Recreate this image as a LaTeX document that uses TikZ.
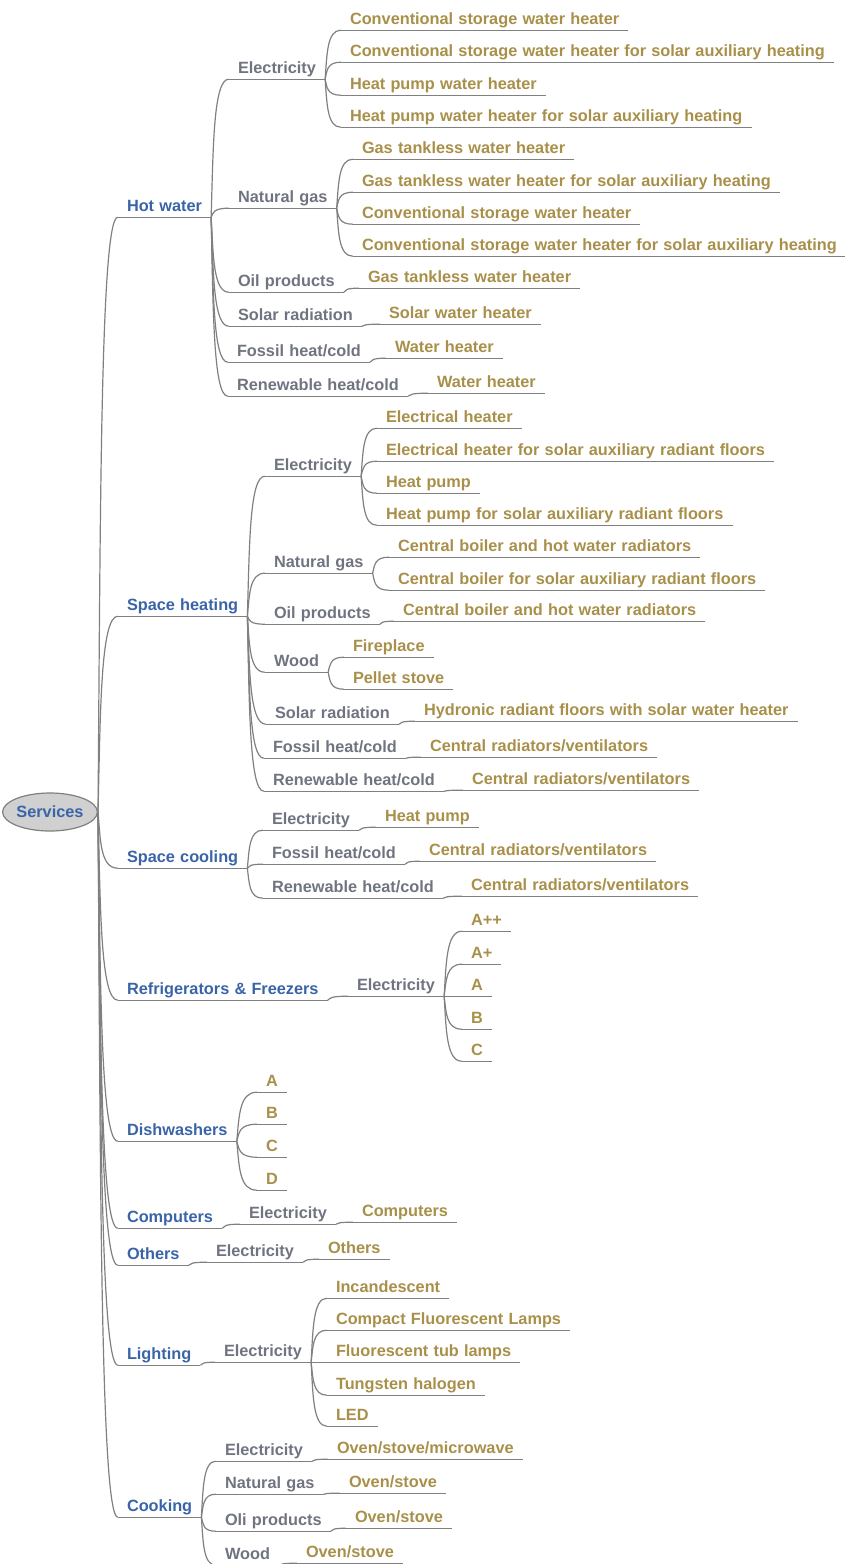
\documentclass[tikz,border=0pt]{standalone}
\usepackage{fontspec}
\setmainfont{Liberation Sans}
\usetikzlibrary{calc,shapes.geometric}
\definecolor{topblue}{RGB}{58,100,168}
\definecolor{midgray}{RGB}{112,116,128}
\definecolor{leafgold}{RGB}{168,144,74}
\definecolor{wire}{RGB}{128,128,128}
\definecolor{rootfill}{RGB}{208,208,208}
\newcommand\mapfont{\fontsize{16.3pt}{19pt}\selectfont\bfseries\spaceskip=5.2pt plus 1pt\relax}
\tikzset{
  uline/.style={draw=wire, line width=1.2pt},
  item/.style={font=\mapfont, inner xsep=9pt, inner ysep=3pt,
    text height=11.5pt, text depth=3pt, anchor=text,
    append after command={(\tikzlastnode.south west) edge[uline] (\tikzlastnode.south east)}},
  topic/.style={item, text=topblue},
  source/.style={item, text=midgray},
  tech/.style={item, text=leafgold},
  rootnode/.style={ellipse, draw=wire, line width=1.2pt, fill=rootfill, text=topblue,
    font=\mapfont, minimum width=90pt, minimum height=38pt, inner sep=0pt},
  conn/.style={draw=wire, line width=1.2pt},
  curvy/.style={to path={let \p1=(\tikztostart), \p2=(\tikztotarget) in
    .. controls ({\x1+0.12*(\x2-\x1)},{\y1+0.5*(\y2-\y1)}) and ({\x1+0.12*(\x2-\x1)},\y2) .. (\tikztotarget)}},
}
\newcommand\branch[2]{\draw[conn] (#1.south east) to[curvy] (#2.south west);}
\begin{document}
\begin{tikzpicture}[x=1pt,y=-1pt]
\useasboundingbox (0,0) rectangle (845,1564);

\node[rootnode] (root) at (50,812) {Services};

% first level
\node[topic] (hw) at (127,211) {Hot water};
\node[topic] (sh) at (127,610) {Space heating};
\node[topic] (sc) at (127,862) {Space cooling};
\node[topic] (rf) at (127,994) {Refrigerators \& Freezers};
\node[topic] (dw) at (127,1135) {Dishwashers};
\node[topic] (cp) at (127,1222) {Computers};
\node[topic] (ot) at (127,1259) {Others};
\node[topic] (li) at (127,1359) {Lighting};
\node[topic] (ck) at (127,1511) {Cooking};

% hot water
\node[source] (hwe) at (238,73) {Electricity};
\node[source] (hwg) at (238,202) {Natural gas};
\node[source] (hwo) at (238,286) {Oil products};
\node[source] (hws) at (238,320) {Solar radiation};
\node[source] (hwf) at (237,356) {Fossil heat/cold};
\node[source] (hwr) at (237,390) {Renewable heat/cold};
\node[tech] (hwe1) at (350,24) {Conventional storage water heater};
\node[tech] (hwe2) at (350,56) {Conventional storage water heater for solar auxiliary heating};
\node[tech] (hwe3) at (350,89) {Heat pump water heater};
\node[tech] (hwe4) at (350,121) {Heat pump water heater for solar auxiliary heating};
\node[tech] (hwg1) at (362,153) {Gas tankless water heater};
\node[tech] (hwg2) at (362,186) {Gas tankless water heater for solar auxiliary heating};
\node[tech] (hwg3) at (362,218) {Conventional storage water heater};
\node[tech] (hwg4) at (362,250) {Conventional storage water heater for solar auxiliary heating};
\node[tech] (hwo1) at (368,282) {Gas tankless water heater};
\node[tech] (hws1) at (389,318) {Solar water heater};
\node[tech] (hwf1) at (395,352) {Water heater};
\node[tech] (hwr1) at (437,387) {Water heater};

% space heating
\node[source] (she) at (274,470) {Electricity};
\node[source] (shg) at (274,567) {Natural gas};
\node[source] (sho) at (274,618) {Oil products};
\node[source] (shw) at (274,666) {Wood};
\node[source] (shs) at (275,718) {Solar radiation};
\node[source] (shf) at (273,752) {Fossil heat/cold};
\node[source] (shr) at (273,785) {Renewable heat/cold};
\node[tech] (she1) at (386,422) {Electrical heater};
\node[tech] (she2) at (386,455) {Electrical heater for solar auxiliary radiant floors};
\node[tech] (she3) at (386,487) {Heat pump};
\node[tech] (she4) at (386,519) {Heat pump for solar auxiliary radiant floors};
\node[tech] (shg1) at (398,551) {Central boiler and hot water radiators};
\node[tech] (shg2) at (398,584) {Central boiler for solar auxiliary radiant floors};
\node[tech] (sho1) at (403,615) {Central boiler and hot water radiators};
\node[tech] (shw1) at (353,651) {Fireplace};
\node[tech] (shw2) at (353,683) {Pellet stove};
\node[tech] (shs1) at (424,715) {Hydronic radiant floors with solar water heater};
\node[tech] (shf1) at (430,751) {Central radiators/ventilators};
\node[tech] (shr1) at (472,784) {Central radiators/ventilators};

% space cooling
\node[source] (sce) at (272,824) {Electricity};
\node[source] (scf) at (272,858) {Fossil heat/cold};
\node[source] (scr) at (272,892) {Renewable heat/cold};
\node[tech] (sce1) at (385,821) {Heat pump};
\node[tech] (scf1) at (429,855) {Central radiators/ventilators};
\node[tech] (scr1) at (471,890) {Central radiators/ventilators};

% refrigerators
\node[source] (rfe) at (357,990) {Electricity};
\node[tech] (rfe1) at (471,925) {A++};
\node[tech] (rfe2) at (471,958) {A+};
\node[tech] (rfe3) at (471,990) {A};
\node[tech] (rfe4) at (471,1023) {B};
\node[tech] (rfe5) at (471,1055) {C};

% dishwashers
\node[tech] (dw1) at (266,1086) {A};
\node[tech] (dw2) at (266,1118) {B};
\node[tech] (dw3) at (266,1151) {C};
\node[tech] (dw4) at (266,1184) {D};

% computers and others
\node[source] (cpe) at (249,1218) {Electricity};
\node[tech] (cpe1) at (362,1216) {Computers};
\node[source] (ote) at (216,1256) {Electricity};
\node[tech] (ote1) at (328,1253) {Others};

% lighting
\node[source] (lie) at (224,1356) {Electricity};
\node[tech] (lie1) at (336,1292) {Incandescent};
\node[tech] (lie2) at (336,1324) {Compact Fluorescent Lamps};
\node[tech] (lie3) at (336,1356) {Fluorescent tub lamps};
\node[tech] (lie4) at (336,1389) {Tungsten halogen};
\node[tech] (lie5) at (336,1420) {LED};

% cooking
\node[source] (cke) at (225,1455) {Electricity};
\node[source] (ckg) at (225,1488) {Natural gas};
\node[source] (cko) at (225,1525) {Oli products};
\node[source] (ckw) at (225,1559) {Wood};
\node[tech] (cke1) at (337,1453) {Oven/stove/microwave};
\node[tech] (ckg1) at (349,1487) {Oven/stove};
\node[tech] (cko1) at (355,1522) {Oven/stove};
\node[tech] (ckw1) at (306,1557) {Oven/stove};

% connectors from the root
\foreach \t in {hw,sh,sc,rf,dw,cp,ot,li,ck}
  {\draw[conn] (root.east) to[curvy] (\t.south west);}

% connectors inside each branch
\foreach \c in {hwe,hwg,hwo,hws,hwf,hwr} {\branch{hw}{\c}}
\foreach \c in {hwe1,hwe2,hwe3,hwe4} {\branch{hwe}{\c}}
\foreach \c in {hwg1,hwg2,hwg3,hwg4} {\branch{hwg}{\c}}
\branch{hwo}{hwo1} \branch{hws}{hws1} \branch{hwf}{hwf1} \branch{hwr}{hwr1}

\foreach \c in {she,shg,sho,shw,shs,shf,shr} {\branch{sh}{\c}}
\foreach \c in {she1,she2,she3,she4} {\branch{she}{\c}}
\foreach \c in {shg1,shg2} {\branch{shg}{\c}}
\foreach \c in {shw1,shw2} {\branch{shw}{\c}}
\branch{sho}{sho1} \branch{shs}{shs1} \branch{shf}{shf1} \branch{shr}{shr1}

\foreach \c in {sce,scf,scr} {\branch{sc}{\c}}
\branch{sce}{sce1} \branch{scf}{scf1} \branch{scr}{scr1}

\branch{rf}{rfe}
\foreach \c in {rfe1,rfe2,rfe3,rfe4,rfe5} {\branch{rfe}{\c}}

\foreach \c in {dw1,dw2,dw3,dw4} {\branch{dw}{\c}}

\branch{cp}{cpe} \branch{cpe}{cpe1}
\branch{ot}{ote} \branch{ote}{ote1}

\branch{li}{lie}
\foreach \c in {lie1,lie2,lie3,lie4,lie5} {\branch{lie}{\c}}

\foreach \c in {cke,ckg,cko,ckw} {\branch{ck}{\c}}
\branch{cke}{cke1} \branch{ckg}{ckg1} \branch{cko}{cko1} \branch{ckw}{ckw1}
\end{tikzpicture}
\end{document}
